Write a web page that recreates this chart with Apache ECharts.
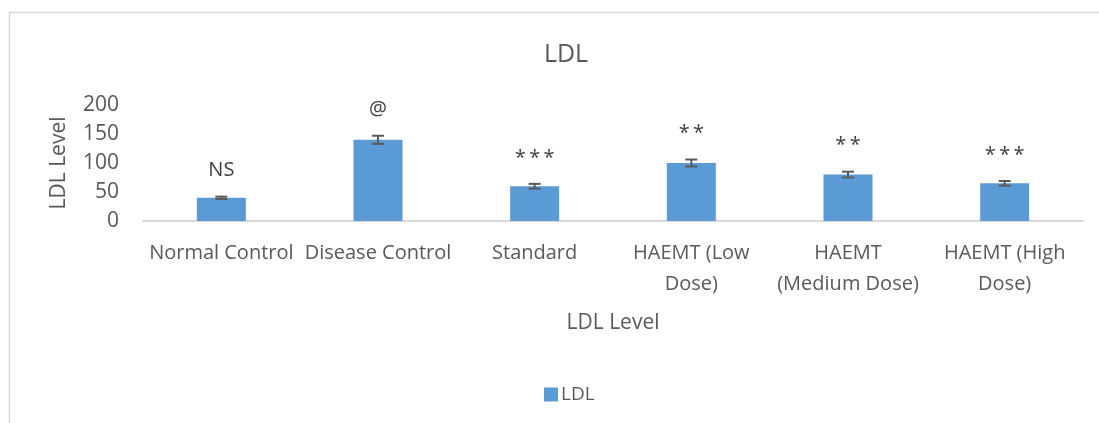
<!DOCTYPE html>
<html>
<head>
<meta charset="utf-8">
<title>LDL</title>
<script src="https://cdn.jsdelivr.net/npm/echarts@6/dist/echarts.min.js"></script>
<style>
  html, body { margin: 0; padding: 0; background: #ffffff; }
  #chart { width: 1099px; height: 423px; }
</style>
</head>
<body>
<div id="chart"></div>
<script>
// Group names shown on the category axis (line breaks as in the printed chart)
const categories = [
  'Normal Control',
  'Disease Control',
  'Standard',
  'HAEMT (Low\nDose)',
  'HAEMT\n(Medium Dose)',
  'HAEMT (High\nDose)'
];
// Mean LDL level per group
const ldlValues = [40, 140, 60, 100, 80, 65];
// Error (± spread) per group
const ldlErrors = [2, 7, 4, 6, 5, 4];
// Significance marks drawn above each bar
const significance = ['NS', '@', '***', '**', '**', '***'];
// Value-axis ticks
const yTicks = { min: 0, max: 200, interval: 50 };

const FONT = '"Open Sans", "DejaVu Sans", sans-serif';
const TEXT = '#595959';

const chart = echarts.init(document.getElementById('chart'), null, { renderer: 'canvas' });

chart.setOption({
  backgroundColor: '#ffffff',
  animation: false,
  title: {
    text: 'LDL',
    left: 561,
    top: 37,
    textAlign: 'center',
    textStyle: { fontFamily: FONT, fontSize: 25, fontWeight: 'normal', color: TEXT }
  },
  legend: {
    data: ['LDL'],
    left: 539,
    top: 380,
    itemWidth: 14,
    itemHeight: 14,
    itemGap: 6,
    icon: 'rect',
    textStyle: { fontFamily: FONT, fontSize: 19, color: TEXT, padding: [0, 0, 0, -2] }
  },
  graphic: [{
    type: 'polyline',
    silent: true,
    shape: { points: [[9.5, 423], [9.5, 12.5], [1099, 12.5]] },
    style: { stroke: '#d9d9d9', lineWidth: 1.5, fill: null }
  }],
  grid: { left: 143, right: 16, top: 105, bottom: 202 },
  xAxis: {
    type: 'category',
    data: categories,
    name: 'LDL Level',
    nameLocation: 'middle',
    nameGap: 92,
    nameTextStyle: { fontFamily: FONT, fontSize: 21, color: TEXT, verticalAlign: 'top' },
    axisLine: { lineStyle: { color: '#d9d9d9', width: 2 } },
    axisTick: { show: false },
    axisLabel: {
      interval: 0,
      margin: 17,
      fontFamily: FONT,
      fontSize: 20,
      lineHeight: 31,
      color: TEXT
    }
  },
  yAxis: {
    type: 'value',
    min: yTicks.min,
    max: yTicks.max,
    interval: yTicks.interval,
    name: 'LDL Level',
    nameLocation: 'middle',
    nameGap: 73,
    nameTextStyle: { fontFamily: FONT, fontSize: 21, color: TEXT },
    axisLine: { show: false },
    axisTick: { show: false },
    splitLine: { show: false },
    axisLabel: { margin: 24, fontFamily: FONT, fontSize: 21, color: TEXT }
  },
  series: [
    {
      name: 'LDL',
      type: 'bar',
      data: ldlValues,
      barWidth: 49,
      itemStyle: { color: '#5b9bd5' },
      z: 2
    },
    {
      name: 'error',
      type: 'custom',
      data: ldlValues.map((v, i) => [i, v, ldlErrors[i]]),
      encode: { x: 0, y: 1 },
      z: 5,
      renderItem: function (params, api) {
        const idx = api.value(0);
        const val = api.value(1);
        const err = api.value(2);
        const mark = significance[params.dataIndex];
        const hi = api.coord([idx, val + err]);
        const lo = api.coord([idx, val - err]);
        const cap = 6;
        const stroke = { stroke: '#595959', lineWidth: 2 };
        return {
          type: 'group',
          children: [
            { type: 'line', shape: { x1: hi[0], y1: hi[1], x2: lo[0], y2: lo[1] }, style: stroke },
            { type: 'line', shape: { x1: hi[0] - cap, y1: hi[1], x2: hi[0] + cap, y2: hi[1] }, style: stroke },
            { type: 'line', shape: { x1: lo[0] - cap, y1: lo[1], x2: lo[0] + cap, y2: lo[1] }, style: stroke },
            {
              type: 'text',
              x: hi[0],
              y: hi[1] - 26,
              style: {
                text: mark.split('').join(mark.charAt(0) === '*' ? '\u2009' : ''),
                fontFamily: FONT,
                fontSize: 20,
                fill: '#404040',
                align: 'center',
                verticalAlign: 'middle'
              }
            }
          ]
        };
      }
    }
  ]
});
</script>
</body>
</html>
